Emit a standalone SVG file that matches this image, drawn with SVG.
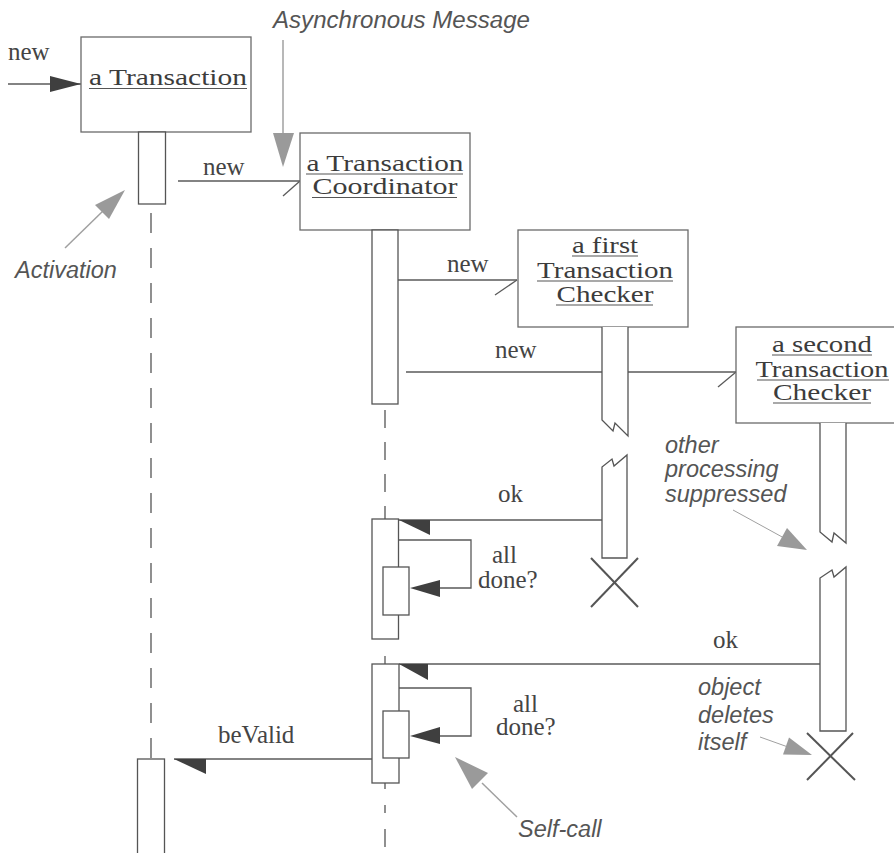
<svg xmlns="http://www.w3.org/2000/svg" width="894" height="853" viewBox="0 0 894 853">
<style>
.box{fill:#fff;stroke:#6a6a6a;stroke-width:1.3}
.act{fill:#fff;stroke:#555;stroke-width:1.3}
.ln{fill:none;stroke:#5a5a5a;stroke-width:1.3}
.life{fill:none;stroke:#555;stroke-width:1.3;stroke-dasharray:20 15}
.ul{stroke:#555;stroke-width:1.2}
.nm{font-family:"Liberation Serif",serif;font-size:24px;fill:#3c3c3c;text-anchor:middle}
.lb{font-family:"Liberation Serif",serif;font-size:25px;fill:#444}
.note{font-family:"Liberation Sans",Arial,sans-serif;font-style:italic;font-size:23.5px;fill:#555}
.dark{fill:#3f3f3f;stroke:none}
.gray{fill:#9a9a9a;stroke:none}
.gln{fill:none;stroke:#a0a0a0;stroke-width:1.5}
.xx{stroke:#555;stroke-width:2}
</style>
<rect width="894" height="853" fill="#fff"/>

<g id="connectors">
  <!-- incoming new -->
  <line class="ln" x1="8" y1="84" x2="81" y2="84"/>
  <polygon class="dark" points="50,76 81,84 50,92"/>
  <text class="lb" x="8" y="60">new</text>
  <!-- new to coordinator -->
  <line class="ln" x1="178" y1="181" x2="300" y2="181"/>
  <line class="ln" x1="300" y1="181" x2="283" y2="196"/>
  <text class="lb" x="203" y="175">new</text>
  <!-- new to first checker -->
  <line class="ln" x1="398" y1="280" x2="517" y2="280"/>
  <line class="ln" x1="517" y1="280" x2="495" y2="295"/>
  <text class="lb" x="447" y="272">new</text>
  <!-- new to second checker -->
  <line class="ln" x1="406" y1="372" x2="736" y2="372"/>
  <line class="ln" x1="736" y1="372" x2="718" y2="387"/>
  <text class="lb" x="495" y="358">new</text>
  <!-- ok 1 -->
  <line class="ln" x1="399" y1="520" x2="602" y2="520"/>
  <polygon class="dark" points="399,520 430,520 430,535"/>
  <text class="lb" x="498" y="502">ok</text>
  <!-- self call 1 -->
  <polyline class="ln" points="398,540 471,540 471,588 438,588"/>
  <polygon class="dark" points="410,588 440,580 440,597"/>
  <text class="lb" x="492" y="563">all</text>
  <text class="lb" x="478" y="588">done?</text>
  <!-- ok 2 -->
  <line class="ln" x1="399" y1="664" x2="820" y2="664"/>
  <polygon class="dark" points="399,664 428,664 428,680"/>
  <text class="lb" x="713" y="648">ok</text>
  <!-- self call 2 -->
  <polyline class="ln" points="399,688 471,688 471,736 438,736"/>
  <polygon class="dark" points="410,736 440,727 440,744"/>
  <text class="lb" x="513" y="712">all</text>
  <text class="lb" x="496" y="735">done?</text>
  <!-- beValid -->
  <line class="ln" x1="174" y1="759" x2="372" y2="759"/>
  <polygon class="dark" points="174,759 206,759 206,774"/>
  <text class="lb" x="218" y="743">beValid</text>
</g>

<g id="transaction">
  <rect class="box" x="81" y="37" width="170" height="95"/>
  <text class="nm" x="168" y="85" textLength="158" lengthAdjust="spacingAndGlyphs">a Transaction</text>
  <line class="ul" x1="89" y1="88.5" x2="247" y2="88.5"/>
  <rect class="act" x="138.5" y="132" width="27" height="72"/>
  <line class="life" x1="151" y1="213" x2="151" y2="758"/>
  <rect class="act" x="137.5" y="759" width="27" height="110"/>
</g>

<g id="coordinator">
  <rect class="box" x="300" y="133" width="170" height="97"/>
  <text class="nm" x="385" y="171" textLength="157" lengthAdjust="spacingAndGlyphs">a Transaction</text>
  <line class="ul" x1="306" y1="174" x2="463" y2="174"/>
  <text class="nm" x="385" y="194" textLength="145" lengthAdjust="spacingAndGlyphs">Coordinator</text>
  <line class="ul" x1="312" y1="197.5" x2="457" y2="197.5"/>
  <rect class="act" x="372" y="230" width="26" height="174"/>
  <line class="life" style="stroke-dasharray:18 14" x1="385" y1="410" x2="385" y2="519"/>
  <rect class="act" x="372" y="519" width="26.5" height="120"/>
  <rect class="act" x="383" y="567" width="26" height="48"/>
  <line class="ln" x1="385" y1="656" x2="385" y2="664"/>
  <rect class="act" x="372" y="664" width="27" height="119"/>
  <rect class="act" x="383" y="711" width="26" height="47"/>
  <line class="life" style="stroke-dasharray:6 16 8 16 18 14" x1="385" y1="783" x2="385" y2="853"/>
</g>

<g id="first-checker">
  <rect class="box" x="518" y="230" width="170" height="97"/>
  <text class="nm" x="605" y="253" textLength="66" lengthAdjust="spacingAndGlyphs">a first</text>
  <line class="ul" x1="572" y1="256" x2="638" y2="256"/>
  <text class="nm" x="605" y="278" textLength="136" lengthAdjust="spacingAndGlyphs">Transaction</text>
  <line class="ul" x1="537" y1="281" x2="673" y2="281"/>
  <text class="nm" x="605" y="302" textLength="97" lengthAdjust="spacingAndGlyphs">Checker</text>
  <line class="ul" x1="556" y1="305" x2="653" y2="305"/>
  <path class="act" d="M602,327 V420 L613,431 L615,423 L628,436 V327"/>
  <path class="act" d="M602,558 V467 L612,459 L614,466 L627,455 V558 Z"/>
  <line class="xx" x1="591" y1="558" x2="638" y2="607"/>
  <line class="xx" x1="638" y1="558" x2="591" y2="607"/>
</g>

<g id="second-checker">
  <rect class="box" x="736" y="327" width="170" height="96"/>
  <text class="nm" x="822" y="352" textLength="100" lengthAdjust="spacingAndGlyphs">a second</text>
  <line class="ul" x1="772" y1="355" x2="872" y2="355"/>
  <text class="nm" x="822" y="377" textLength="133" lengthAdjust="spacingAndGlyphs">Transaction</text>
  <line class="ul" x1="757" y1="380" x2="889" y2="380"/>
  <text class="nm" x="822" y="400" textLength="98" lengthAdjust="spacingAndGlyphs">Checker</text>
  <line class="ul" x1="773" y1="403" x2="871" y2="403"/>
  <path class="act" d="M820,423 V532 L832,542 L834,533 L846,543 V423"/>
  <path class="act" d="M820,731 V578 L832,570 L834,577 L846,567 V731 Z"/>
  <line class="xx" x1="807" y1="733" x2="855" y2="780"/>
  <line class="xx" x1="853" y1="733" x2="807" y2="780"/>
</g>

<g id="annotations">
  <text class="note" x="273" y="28" textLength="257" lengthAdjust="spacingAndGlyphs">Asynchronous Message</text>
  <line class="gln" x1="283" y1="40" x2="283" y2="136"/>
  <polygon class="gray" points="273,133 294,133 283,167"/>

  <text class="note" x="15" y="278">Activation</text>
  <line class="gln" x1="65" y1="248" x2="104" y2="210"/>
  <polygon class="gray" points="125,190 109,219 95,205"/>

  <text class="note" x="665" y="453">other</text>
  <text class="note" x="665" y="477">processing</text>
  <text class="note" x="665" y="502">suppressed</text>
  <line class="gln" style="stroke-width:1" x1="733" y1="510" x2="784" y2="538"/>
  <polygon class="gray" points="807,550 777,546 787,528"/>

  <text class="note" x="698" y="695">object</text>
  <text class="note" x="698" y="723">deletes</text>
  <text class="note" x="698" y="750">itself</text>
  <line class="gln" style="stroke-width:1" x1="760" y1="737" x2="788" y2="747"/>
  <polygon class="gray" points="812,755 783,754.5 789,737.5"/>

  <text class="note" x="518" y="837">Self-call</text>
  <line class="gln" x1="517" y1="817" x2="482" y2="783"/>
  <polygon class="gray" points="455,757 488,773 472,789"/>
</g>
</svg>
